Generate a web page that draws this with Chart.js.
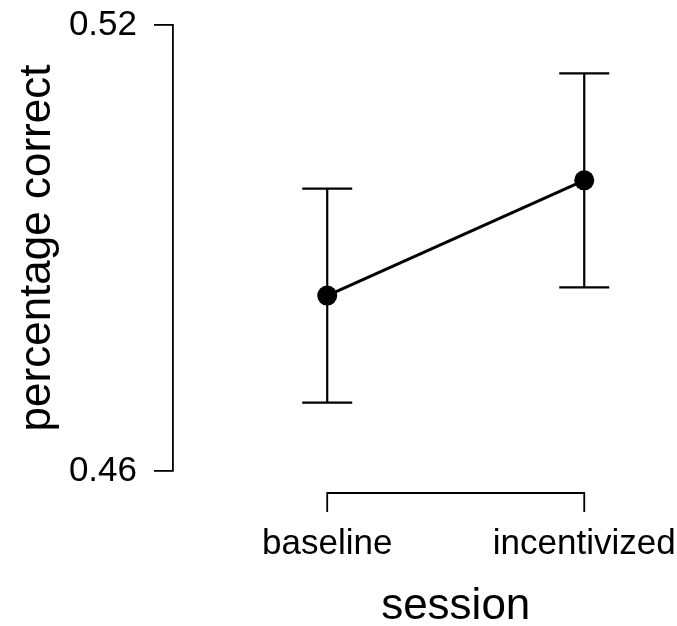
<!DOCTYPE html>
<html>
<head>
<meta charset="utf-8">
<script src="https://cdn.jsdelivr.net/npm/chart.js@4"></script>
<style>
  html, body { margin: 0; padding: 0; background: #fff; }
  #wrap { width: 677px; height: 626px; }
</style>
</head>
<body>
<div id="wrap"><canvas id="chart" width="677" height="626"></canvas></div>
<script>
// values
const sessions = ['baseline', 'incentivized'];
const sessionX = [1, 2];
const meanCorrect = [0.4836, 0.4991];
const lowerCI = [0.4692, 0.4847];
const upperCI = [0.4980, 0.5135];
const yTicks = [0.46, 0.52];
const xTitle = 'session';
const yTitle = 'percentage correct';

const FONT = 'Liberation Sans, Arial, Helvetica, sans-serif';

// R-style error bars, drawn from the data through the scales
const errorBars = {
  id: 'errorBars',
  afterDatasetsDraw(chart) {
    const ctx = chart.ctx;
    const xs = chart.scales.x, ys = chart.scales.y;
    ctx.save();
    ctx.strokeStyle = '#000';
    ctx.lineWidth = 2.2;
    for (let i = 0; i < sessionX.length; i++) {
      const px = xs.getPixelForValue(sessionX[i]);
      const top = ys.getPixelForValue(upperCI[i]);
      const bot = ys.getPixelForValue(lowerCI[i]);
      ctx.beginPath();
      ctx.moveTo(px, top); ctx.lineTo(px, bot);
      ctx.moveTo(px - 25, top); ctx.lineTo(px + 25, top);
      ctx.moveTo(px - 25, bot); ctx.lineTo(px + 25, bot);
      ctx.stroke();
    }
    ctx.restore();
  }
};

// x axis only spans the first to last tick, offset below the plot;
// the axis title sits centred on the sessions, like R's plot region
const xBracket = {
  id: 'xBracket',
  afterDraw(chart) {
    const ctx = chart.ctx;
    const xs = chart.scales.x;
    const y0 = chart.chartArea.bottom + 22;
    const a = xs.getPixelForValue(sessionX[0]);
    const b = xs.getPixelForValue(sessionX[sessionX.length - 1]);
    ctx.save();
    ctx.strokeStyle = '#000';
    ctx.lineWidth = 1.8;
    ctx.beginPath();
    ctx.moveTo(a, y0 + 19); ctx.lineTo(a, y0); ctx.lineTo(b, y0); ctx.lineTo(b, y0 + 19);
    sessionX.slice(1, -1).forEach(function (v) {
      const p = xs.getPixelForValue(v);
      ctx.moveTo(p, y0); ctx.lineTo(p, y0 + 19);
    });
    ctx.stroke();
    ctx.fillStyle = '#000';
    ctx.font = '44px ' + FONT;
    ctx.textAlign = 'center';
    ctx.textBaseline = 'middle';
    ctx.fillText(xTitle, (a + b) / 2, xs.bottom - 19);
    ctx.restore();
  }
};

new Chart(document.getElementById('chart').getContext('2d'), {
  type: 'line',
  data: {
    datasets: [{
      data: sessionX.map(function (x, i) { return { x: x, y: meanCorrect[i] }; }),
      borderColor: '#000',
      borderWidth: 3,
      pointRadius: 10,
      pointBackgroundColor: '#000',
      pointBorderColor: '#000',
      pointBorderWidth: 0,
      tension: 0
    }]
  },
  options: {
    responsive: false,
    animation: false,
    layout: { padding: { top: 25, right: 0, left: 0, bottom: 0 } },
    plugins: { legend: { display: false }, tooltip: { enabled: false } },
    scales: {
      x: {
        type: 'linear',
        min: 0.4,
        max: 2.322,
        afterBuildTicks: function (s) { s.ticks = sessionX.map(function (v) { return { value: v }; }); },
        afterFit: function (s) { s.height = 155; s.paddingLeft = 0; s.paddingRight = 0; },
        border: { display: false },
        grid: { display: false, drawTicks: false },
        ticks: {
          padding: 52,
          color: '#000',
          font: { family: FONT, size: 35 },
          maxRotation: 0,
          autoSkip: false,
          callback: function (v) { return sessions[sessionX.indexOf(v)] || ''; }
        },
        title: { display: false }
      },
      y: {
        min: yTicks[0],
        max: yTicks[yTicks.length - 1],
        afterBuildTicks: function (s) { s.ticks = yTicks.map(function (v) { return { value: v }; }); },
        afterFit: function (s) { s.width = 173; s.paddingTop = 0; s.paddingBottom = 0; },
        border: { display: true, color: '#000', width: 1.8 },
        grid: { display: true, drawOnChartArea: false, drawTicks: true, tickLength: 19, tickColor: '#000', lineWidth: 1.8 },
        ticks: {
          padding: 17,
          color: '#000',
          font: { family: FONT, size: 35 },
          callback: function (v) { return Number(v).toFixed(2); }
        },
        title: {
          display: true,
          text: yTitle,
          color: '#000',
          font: { family: FONT, size: 44, lineHeight: 1 },
          padding: { top: 16, bottom: 0 }
        }
      }
    }
  },
  plugins: [errorBars, xBracket]
});
</script>
</body>
</html>
